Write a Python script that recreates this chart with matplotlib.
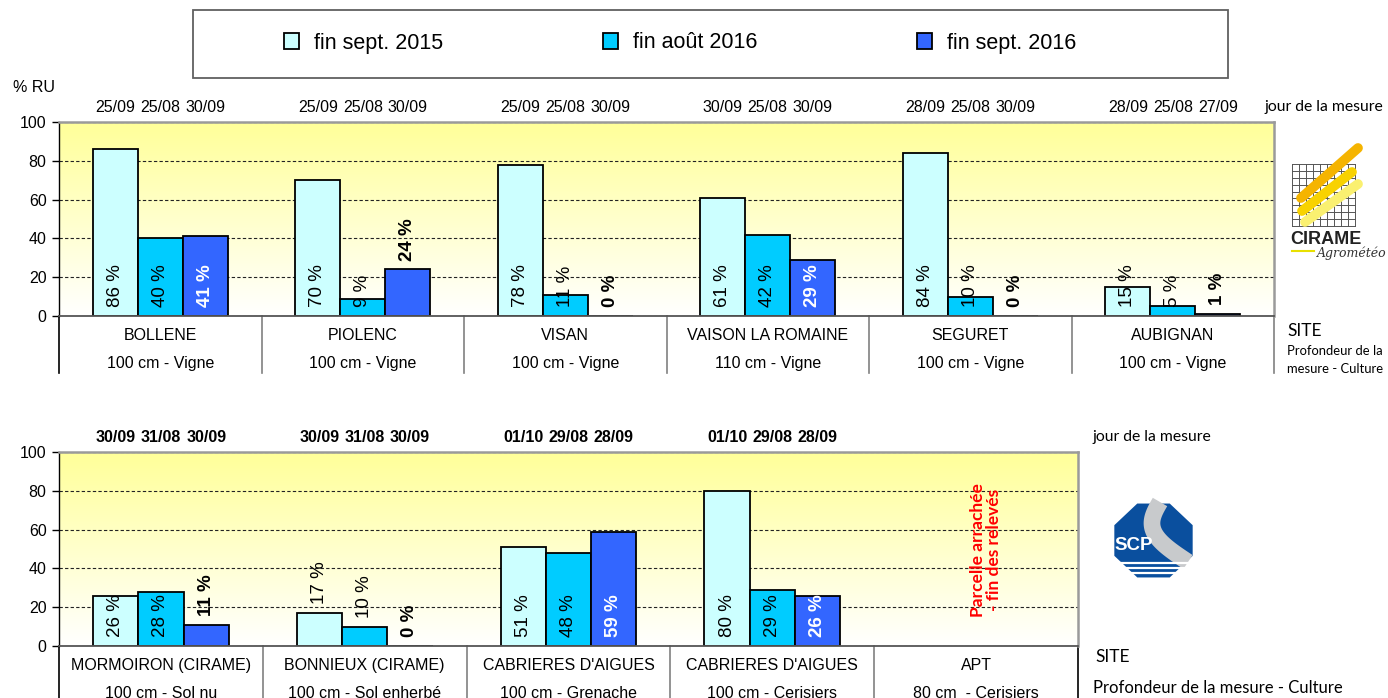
import matplotlib
matplotlib.use('Agg')
import matplotlib.pyplot as plt
import numpy as np
from matplotlib.patches import Rectangle, Polygon
from matplotlib.colors import LinearSegmentedColormap
from matplotlib.transforms import blended_transform_factory

W, H = 1388, 698
DPI = 100

# ---------------- data ----------------
series_names = ['fin sept. 2015', 'fin août 2016', 'fin sept. 2016']

top_sites = ['BOLLENE', 'PIOLENC', 'VISAN', 'VAISON LA ROMAINE', 'SEGURET', 'AUBIGNAN']
top_depths = ['100 cm - Vigne', '100 cm - Vigne', '100 cm - Vigne',
              '110 cm - Vigne', '100 cm - Vigne', '100 cm - Vigne']
top_sept2015 = [86, 70, 78, 61, 84, 15]
top_aout2016 = [40, 9, 11, 42, 10, 5]
top_sept2016 = [41, 24, 0, 29, 0, 1]
top_dates = [['25/09', '25/08', '30/09'],
             ['25/09', '25/08', '30/09'],
             ['25/09', '25/08', '30/09'],
             ['30/09', '25/08', '30/09'],
             ['28/09', '25/08', '30/09'],
             ['28/09', '25/08', '27/09']]

bot_sites = ['MORMOIRON (CIRAME)', 'BONNIEUX (CIRAME)', "CABRIERES D'AIGUES",
             "CABRIERES D'AIGUES", 'APT']
bot_depths = ['100 cm - Sol nu', '100 cm - Sol enherbé', '100 cm - Grenache',
              '100 cm - Cerisiers', '80 cm  - Cerisiers']
bot_sept2015 = [26, 17, 51, 80, None]
bot_aout2016 = [28, 10, 48, 29, None]
bot_sept2016 = [11, 0, 59, 26, None]
bot_dates = [['30/09', '31/08', '30/09'],
             ['30/09', '31/08', '30/09'],
             ['01/10', '29/08', '28/09'],
             ['01/10', '29/08', '28/09'],
             ['', '', '']]

# ---------------- style ----------------
colors = ['#CCFFFF', '#00CCFF', '#3366FF']
ARIAL = 'Liberation Sans'
CALIBRI = 'Lato'
# label placement: True = above bar end, False = inside base
top_label_out = [[False, False, False], [False, False, True], [False, False, True],
                 [False, False, False], [False, False, True], [False, False, True]]
bot_label_out = [[False, False, True], [True, True, True], [False, False, False],
                 [False, False, False], [False, False, False]]
BW = 0.222

fig = plt.figure(figsize=(W / DPI, H / DPI), dpi=DPI)
fig.patch.set_facecolor('white')


def px_axes(x0, y0, x1, y1):
    return fig.add_axes([x0 / W, 1 - y1 / H, (x1 - x0) / W, (y1 - y0) / H])


grad_cmap = LinearSegmentedColormap.from_list('g', ['#FFFFFF', '#FFFF99'])


def draw_panel(ax, sites, depths, series, dates, outside, bold_dates):
    n = len(sites)
    ax.set_xlim(-0.5, n - 0.5)
    ax.set_ylim(0, 100)
    ax.imshow(np.linspace(0, 1, 256).reshape(-1, 1), extent=(-0.5, n - 0.5, 0, 100),
              origin='lower', cmap=grad_cmap, aspect='auto', zorder=0)
    ax.set_axisbelow(True)
    ax.yaxis.grid(True, linestyle=(0, (3, 2)), color='#222222', lw=0.8)
    ax.set_yticks([0, 20, 40, 60, 80, 100])
    ax.set_xticks([])
    ax.tick_params(axis='y', length=5, width=1, direction='out', pad=4,
                   labelsize=11.5)
    for lab in ax.get_yticklabels():
        lab.set_fontfamily(ARIAL)
    ax.spines['left'].set_color('black')
    ax.spines['left'].set_linewidth(1.0)
    for s in ('top', 'right'):
        ax.spines[s].set_color('#9A9A9A')
        ax.spines[s].set_linewidth(1.8)
    ax.spines['bottom'].set_color('#555555')
    ax.spines['bottom'].set_linewidth(1.3)
    trans = blended_transform_factory(ax.transData, ax.transAxes)
    handles = []
    for j, vals in enumerate(series):
        xs = [i + (j - 1) * BW for i, v in enumerate(vals) if v is not None]
        hs = [v for v in vals if v is not None]
        b = ax.bar(xs, hs, BW, color=colors[j], edgecolor='black', lw=1.3, zorder=2)
        handles.append(b)
        for i, v in enumerate(vals):
            if v is None:
                continue
            x = i + (j - 1) * BW
            if outside[i][j]:
                y = v + 4.5
                col = 'black'
                fw = 'bold' if j == 2 else 'normal'
            else:
                y = 4.5
                if j == 2:
                    col, fw = 'white', 'bold'
                else:
                    col, fw = 'black', 'normal'
            ax.text(x, y, f'{v} %', rotation=90, ha='center', va='bottom',
                    fontsize=13.5, color=col, fontweight=fw, family=ARIAL, zorder=3)
    for i in range(n):
        for j in range(3):
            if dates[i][j]:
                ax.text(i + (j - 1) * BW, 1.077, dates[i][j], transform=trans,
                        ha='center', va='center', fontsize=11.5, family=ARIAL,
                        fontweight='bold' if bold_dates else 'normal', clip_on=False)
        ax.text(i, -0.098, sites[i], transform=trans, ha='center', va='center',
                fontsize=11.5, family=ARIAL, clip_on=False)
        ax.text(i, -0.247, depths[i], transform=trans, ha='center', va='center',
                fontsize=11.5, family=ARIAL, clip_on=False)
    return handles, trans


# top panel
ax1 = px_axes(59, 122, 1274, 316)
h1, tr1 = draw_panel(ax1, top_sites, top_depths,
                     [top_sept2015, top_aout2016, top_sept2016],
                     top_dates, top_label_out, False)
for k in range(len(top_sites) + 1):
    ax1.plot([k - 0.5, k - 0.5], [0, -0.294], transform=tr1,
             color='black' if k == 0 else '#808080', lw=1.2, clip_on=False)

# bottom panel
ax2 = px_axes(59, 452, 1078, 646)
h2, tr2 = draw_panel(ax2, bot_sites, bot_depths,
                     [bot_sept2015, bot_aout2016, bot_sept2016],
                     bot_dates, bot_label_out, True)
for k in range(len(bot_sites) + 1):
    ax2.plot([k - 0.5, k - 0.5], [0, -0.35], transform=tr2,
             color='black' if k in (0, len(bot_sites)) else '#808080', lw=1.2,
             clip_on=False)
ax2.text(4.05, 49.5, 'Parcelle arrachée\n- fin des relevés', rotation=90,
         ha='center', va='center', color='#FF0000', fontsize=12.5,
         fontweight='bold', family=CALIBRI, linespacing=1.0, zorder=4)

# overlay for free texts and logos
ov = fig.add_axes([0, 0, 1, 1])
ov.set_xlim(0, W)
ov.set_ylim(H, 0)
ov.axis('off')
ov.patch.set_alpha(0)

# legend
ov.add_patch(Rectangle((193, 10), 1035, 68, fill=False, edgecolor='#606060', lw=1.3))
leg = fig.legend(h1, series_names, loc='center', bbox_to_anchor=(680 / W, 1 - 43 / H),
                 ncol=3, frameon=False, handlelength=0.7,
                 handleheight=0.8, handletextpad=0.7, columnspacing=7.4,
                 prop={'family': ARIAL, 'size': 15.5})

ov.text(13, 87, '% RU', fontsize=11.5, family=ARIAL, va='center', ha='left')
ov.text(1265, 107, 'jour de la mesure', fontsize=11.3, family=CALIBRI, va='center', ha='left')
ov.text(1287, 331, 'SITE', fontsize=12.5, family=CALIBRI, va='center', ha='left')
ov.text(1287, 351, 'Profondeur de la', fontsize=9.4, family=CALIBRI, va='center', ha='left')
ov.text(1287, 369, 'mesure - Culture', fontsize=9.4, family=CALIBRI, va='center', ha='left')
ov.text(1093, 437, 'jour de la mesure', fontsize=11.3, family=CALIBRI, va='center', ha='left')
ov.text(1095, 657, 'SITE', fontsize=12.5, family=CALIBRI, va='center', ha='left')
ov.text(1093, 688, 'Profondeur de la mesure - Culture', fontsize=12, family=CALIBRI,
        va='center', ha='left')

# CIRAME logo (approximation)
gx0, gx1, gy0, gy1 = 1292, 1355, 164, 226
for t in np.linspace(0, 1, 10):
    ov.plot([gx0 + t * (gx1 - gx0)] * 2, [gy0, gy1], color='#555555', lw=0.7)
    ov.plot([gx0, gx1], [gy0 + t * (gy1 - gy0)] * 2, color='#555555', lw=0.7)
ov.plot([1301, 1358], [198, 148], color='#F5B400', lw=7, solid_capstyle='round')
ov.plot([1302, 1352], [211, 172], color='#F8D200', lw=7, solid_capstyle='round')
ov.plot([1305, 1358], [222, 184], color='#FAF070', lw=7, solid_capstyle='round')
ov.text(1290, 239, 'CIRAME', fontsize=13, fontweight='bold', family=ARIAL,
        color='#222222', va='center', ha='left')
ov.plot([1292, 1314], [251, 251], color='#E8E000', lw=1.5)
ov.text(1317, 253, 'Agrométéo', fontsize=9, style='italic', family='DejaVu Serif',
        color='#333333', va='center', ha='left')

# SCP logo (approximation)
cx, cy, r = 1153.5, 540.5, 40
ang = np.deg2rad(22.5 + 45 * np.arange(8))
ov.add_patch(Polygon(np.c_[cx + r * np.cos(ang) * 1.06, cy + r * np.sin(ang)],
                     closed=True, facecolor='#0A4F9E', edgecolor='none', zorder=1))
tt = np.linspace(0, 1, 80)
sx = 1160 - 20 * np.sin(np.pi * tt) + 28 * tt
sy = 502 + 60 * tt
ov.plot(sx, sy, color='#C8CACC', lw=12, solid_capstyle='butt', zorder=2)
for yy in (563, 568, 573):
    ov.plot([1118, 1189], [yy, yy], color='white', lw=1.6, zorder=3)
ov.text(1134, 545, 'SCP', fontsize=13.5, fontweight='bold', family=ARIAL,
        color='white', va='center', ha='center', zorder=4)

fig.savefig('out.png', dpi=DPI, facecolor='white')
